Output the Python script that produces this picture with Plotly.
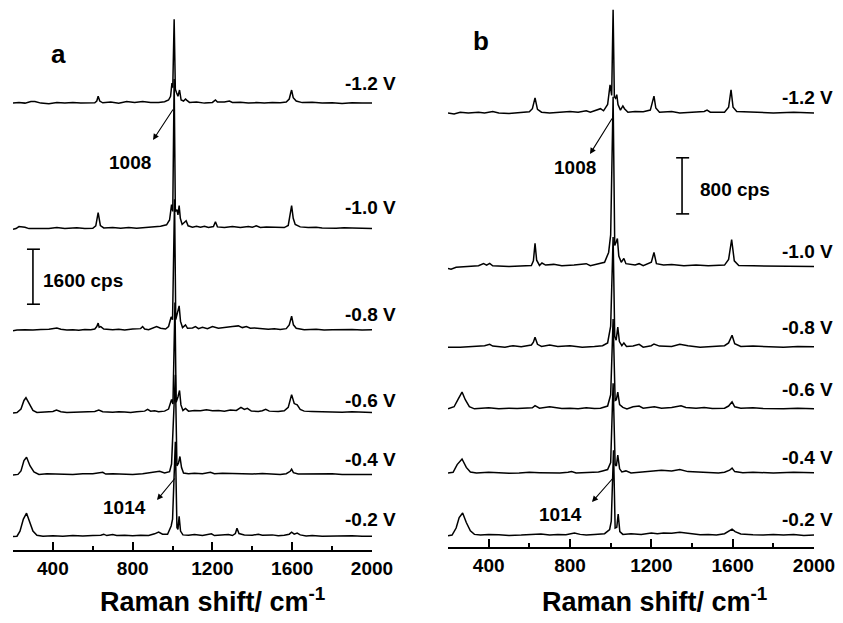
import plotly.graph_objects as go

W, H = 843, 623

# ---------------- data (Raman shift cm-1, intensity cps above each trace's baseline) ----------------
voltages = ["-0.2 V", "-0.4 V", "-0.6 V", "-0.8 V", "-1.0 V", "-1.2 V"]

# panel a: vertical offsets (cps) of each trace
a_offsets = [400, 2200, 4000, 6400, 9350, 13000]
# panel b
b_offsets = [170, 1055, 1970, 2850, 4000, 6190]

a_m02 = [(200, -10), (220, 0), (235, 150), (252, 500), (268, 670), (285, 400), (300, 150), (320, 30), (350, 0),
         (400, 15), (450, 0), (500, 20), (550, 10), (600, 25), (640, 30), (655, 60), (670, 20), (700, 50), (720, 20),
         (760, 30), (800, 15), (840, 30), (880, 20), (910, 70), (930, 120), (950, 60), (975, 60), (993, 300),
         (1000, 500), (1014, 2750), (1022, 250), (1027, 200), (1033, 580), (1040, 150), (1052, 40), (1080, 30),
         (1110, 50), (1150, 20), (1175, 60), (1195, 70), (1210, 20), (1250, 30), (1280, 50), (1300, 20), (1315, 80),
         (1323, 230), (1333, 80), (1360, 40), (1400, 30), (1430, 60), (1450, 30), (1500, 40), (1530, 15), (1560, 30),
         (1585, 60), (1597, 120), (1610, 60), (1625, 90), (1640, 40), (1670, 10), (1700, 20), (1750, 0), (1800, 10),
         (1850, 0), (1900, 15), (1950, 0), (2000, 0)]
a_m04 = [(200, -20), (225, 0), (240, 100), (255, 400), (268, 500), (285, 250), (305, 70), (330, 0), (370, 15),
         (400, 10), (450, -10), (500, 0), (550, 15), (600, 15), (650, 60), (665, 10), (700, 20), (750, 10), (800, 0),
         (850, 15), (900, 50), (935, 90), (960, 40), (985, 80), (995, 300), (1014, 2900), (1022, 250), (1030, 330),
         (1037, 520), (1045, 200), (1055, 40), (1080, 20), (1110, 35), (1150, 20), (1190, 60), (1210, 20), (1250, 30),
         (1300, 20), (1350, 0), (1400, 10), (1450, 25), (1500, 20), (1540, 0), (1570, 20), (1590, 90), (1597, 150),
         (1606, 50), (1630, 10), (1700, 20), (1750, 10), (1800, 20), (1850, 0), (1920, 10), (2000, 0)]
a_m06 = [(200, -15), (220, 0), (240, 100), (255, 350), (265, 430), (280, 250), (300, 60), (320, 0), (360, 10),
         (400, 30), (418, 70), (440, 20), (470, 0), (500, 10), (530, 0), (560, 20), (610, 30), (630, 70), (650, 20),
         (700, 10), (730, 25), (760, 15), (790, 0), (820, 20), (860, 40), (875, 90), (890, 40), (910, 50), (930, 20),
         (960, 40), (980, 100), (995, 380), (1002, 250), (1012, 3200), (1018, 300), (1027, 450), (1035, 640),
         (1042, 220), (1052, 60), (1065, 120), (1080, 40), (1110, 60), (1140, 50), (1170, 80), (1200, 50),
         (1230, 60), (1260, 40), (1290, 70), (1320, 60), (1343, 150), (1360, 90), (1375, 120), (1395, 40),
         (1430, 30), (1450, 50), (1467, 90), (1485, 40), (1530, 30), (1560, 50), (1580, 150), (1597, 520),
         (1610, 260), (1625, 220), (1640, 90), (1660, 40), (1700, 30), (1760, 20), (1800, 30), (1850, 10),
         (1900, 20), (1950, 15), (2000, 0)]
a_m08 = [(200, -20), (220, 0), (260, 10), (300, 0), (340, 15), (380, 20), (420, 60), (440, 20), (470, 0),
         (500, 10), (530, -10), (560, 15), (590, 10), (610, 30), (620, 100), (627, 200), (632, 80), (640, 100),
         (655, 30), (700, 10), (730, 20), (760, 0), (800, 30), (840, 40), (850, 100), (860, 30), (880, 10),
         (900, 60), (920, 100), (940, 50), (965, 30), (980, 100), (993, 380), (1000, 300), (1010, 3800),
         (1016, 300), (1025, 500), (1033, 700), (1040, 250), (1050, 70), (1065, 150), (1075, 50), (1100, 60),
         (1115, 100), (1130, 40), (1150, 80), (1175, 40), (1200, 100), (1230, 50), (1260, 80), (1300, 100),
         (1330, 120), (1350, 70), (1370, 100), (1390, 50), (1410, 60), (1440, 40), (1480, 20), (1510, 35),
         (1540, 15), (1570, 40), (1585, 150), (1597, 400), (1606, 150), (1620, 50), (1660, 10), (1720, 20),
         (1760, 0), (1800, 10), (1850, 20), (1900, 15), (1950, 0), (2000, 10)]
a_m10 = [(200, -20), (215, 0), (230, 60), (260, 40), (280, 0), (330, 10), (380, 0), (420, 30), (460, 0),
         (520, 25), (560, 0), (600, 10), (615, 80), (627, 465), (638, 90), (655, 20), (700, 35), (740, 10),
         (780, 30), (820, 10), (860, 30), (900, 50), (940, 70), (970, 110), (985, 250), (995, 700), (1001, 500),
         (1008, 4350), (1014, 500), (1022, 550), (1027, 400), (1033, 670), (1039, 300), (1048, 120), (1060, 180),
         (1068, 230), (1078, 80), (1100, 40), (1120, 70), (1140, 40), (1160, 70), (1180, 30), (1205, 60),
         (1215, 200), (1225, 50), (1260, 30), (1300, 60), (1340, 30), (1380, 60), (1400, 40), (1420, 80),
         (1440, 30), (1470, 50), (1500, 40), (1560, 30), (1580, 90), (1590, 450), (1597, 670), (1605, 300),
         (1615, 120), (1640, 50), (1680, 30), (1720, 40), (1750, 20), (1820, 10), (1860, 25), (1900, 15),
         (1950, 5), (2000, 0)]
a_m12 = [(200, 0), (230, 15), (260, 0), (290, 45), (310, 50), (340, 0), (380, -15), (420, 15), (460, 0),
         (500, 20), (540, 0), (580, 15), (610, 10), (620, 60), (627, 200), (635, 60), (650, 10), (690, 30),
         (730, 0), (770, 45), (810, 20), (850, 45), (890, 15), (930, 20), (960, 40), (980, 90), (990, 200),
         (997, 580), (1001, 450), (1008, 2440), (1014, 400), (1020, 300), (1027, 200), (1035, 380), (1043, 90),
         (1055, 60), (1065, 120), (1072, 80), (1085, 20), (1120, 30), (1160, 0), (1200, 20), (1208, 50),
         (1215, 90), (1225, 30), (1260, 30), (1285, 60), (1300, 20), (1340, 25), (1380, 0), (1420, 15),
         (1460, 0), (1500, 20), (1540, 10), (1570, 30), (1585, 120), (1592, 280), (1597, 380), (1605, 160),
         (1620, 60), (1650, 15), (1700, 25), (1750, 0), (1800, 10), (1850, -10), (1900, 10), (1950, 0),
         (2000, 0)]

b_m02 = [(200, -10), (220, 0), (240, 100), (255, 250), (272, 315), (290, 180), (310, 60), (330, 10), (360, 0),
         (400, 10), (450, 5), (500, -5), (560, 0), (620, 10), (657, 15), (700, 0), (740, 10), (780, 5), (822, 30),
         (850, 10), (880, 0), (920, 10), (970, 20), (995, 80), (1003, 200), (1014, 1210), (1022, 100), (1030, 110),
         (1037, 300), (1045, 50), (1060, 10), (1100, 20), (1150, 10), (1200, 30), (1230, 20), (1260, 30),
         (1300, 25), (1340, 40), (1370, 30), (1400, 20), (1440, 5), (1480, 10), (1520, 0), (1560, 20), (1585, 60),
         (1597, 85), (1612, 50), (1640, 15), (1700, 5), (1750, 0), (1800, 10), (1850, 0), (1900, 10), (1950, -5),
         (2000, 0)]
b_m04 = [(200, 0), (225, 10), (245, 120), (269, 200), (290, 80), (310, 15), (340, 0), (400, 10), (450, 5),
         (500, -5), (550, 0), (600, 10), (650, 5), (700, 0), (750, 0), (790, 10), (808, 20), (830, 0), (870, 5),
         (900, 10), (940, 15), (960, 30), (985, 50), (1000, 150), (1012, 1280), (1022, 120), (1028, 100),
         (1035, 255), (1044, 60), (1055, 15), (1075, 30), (1100, 0), (1140, 10), (1180, 20), (1220, 35),
         (1250, 40), (1300, 30), (1340, 50), (1380, 20), (1440, 10), (1500, 10), (1530, 0), (1560, 10),
         (1585, 40), (1597, 70), (1610, 20), (1650, 5), (1700, 10), (1800, 0), (1900, 10), (2000, 5)]
b_m06 = [(200, 0), (230, 30), (250, 140), (269, 240), (285, 130), (305, 30), (330, 0), (370, 10), (400, 15),
         (450, 0), (500, 10), (540, 5), (600, 10), (615, 15), (628, 45), (650, 10), (700, 30), (720, 20),
         (760, 5), (800, 10), (840, 0), (880, 15), (920, 5), (950, 10), (985, 40), (1000, 200), (1012, 1280),
         (1022, 120), (1028, 130), (1035, 240), (1044, 60), (1060, 20), (1080, 0), (1110, 30), (1140, 40),
         (1160, 10), (1215, 30), (1250, 10), (1300, 20), (1346, 45), (1370, 20), (1420, 10), (1460, 20),
         (1500, 5), (1560, 10), (1580, 40), (1597, 100), (1610, 30), (1640, 10), (1700, 15), (1750, 5),
         (1850, 0), (1920, 10), (2000, 0)]
b_m08 = [(200, 0), (230, -5), (260, 0), (320, 10), (380, 20), (405, 40), (420, 15), (480, 0), (520, 20),
         (560, 5), (610, 30), (620, 70), (628, 140), (640, 40), (660, 10), (700, 30), (740, 10), (800, 20),
         (860, 0), (920, 10), (960, 20), (985, 60), (1000, 300), (1012, 1570), (1020, 150), (1027, 100),
         (1035, 285), (1043, 80), (1055, 20), (1065, 60), (1078, 10), (1110, 15), (1140, 40), (1160, 0),
         (1200, 20), (1213, 45), (1240, 15), (1300, 10), (1340, 40), (1380, 20), (1440, 0), (1500, 10),
         (1560, 20), (1580, 60), (1597, 170), (1610, 50), (1640, 10), (1700, 15), (1750, 10), (1850, 0),
         (1920, 10), (2000, 5)]
b_m10 = [(200, -30), (215, -40), (240, -10), (300, 0), (350, 10), (375, 40), (390, 20), (405, 45), (420, 10),
         (500, 0), (560, 5), (610, 15), (620, 80), (628, 330), (636, 90), (650, 15), (662, 50), (680, 20),
         (720, 30), (760, 10), (820, 20), (880, 40), (900, 10), (950, 40), (970, 60), (990, 200), (1000, 450),
         (1012, 2420), (1020, 300), (1027, 350), (1033, 400), (1040, 150), (1052, 60), (1065, 115), (1075, 40),
         (1120, 20), (1140, 40), (1160, 10), (1200, 60), (1213, 200), (1225, 40), (1260, 20), (1300, 30),
         (1360, 10), (1420, 20), (1480, 10), (1560, 20), (1580, 100), (1595, 385), (1608, 80), (1630, 15),
         (1700, 10), (1800, 10), (1900, 0), (2000, 0)]
b_m12 = [(200, 0), (230, -15), (260, 10), (300, 0), (350, 10), (380, 0), (420, 20), (450, 0), (500, -10),
         (560, 10), (600, 15), (615, 60), (628, 215), (640, 50), (660, 10), (700, 0), (760, 10), (800, 20),
         (840, 10), (880, 30), (900, 10), (930, 40), (950, 60), (965, 30), (985, 120), (997, 400), (1005, 250),
         (1012, 1470), (1018, 230), (1024, 210), (1030, 260), (1036, 120), (1048, 40), (1060, 100), (1068, 60),
         (1085, 10), (1120, 20), (1160, 15), (1195, 40), (1205, 150), (1213, 240), (1222, 70), (1240, 10),
         (1300, 20), (1340, 0), (1400, 10), (1460, 20), (1474, 40), (1490, 10), (1560, 10), (1580, 80),
         (1592, 330), (1602, 80), (1620, 20), (1700, 10), (1800, 0), (1900, 10), (2000, 0)]

a_spectra = [a_m02, a_m04, a_m06, a_m08, a_m10, a_m12]
b_spectra = [b_m02, b_m04, b_m06, b_m08, b_m10, b_m12]

x_ticks = [400, 800, 1200, 1600, 2000]
x_tick_text = ["400", "800", "1200", "1600", "2000"]
x_minor = [200, 600, 1000, 1400, 1800]
a_scale_cps = 1600
b_scale_cps = 800

# ---------------- figure ----------------
fig = go.Figure()

def add_panel(spectra, offsets, xa, ya):
    for pts, off in zip(spectra, offsets):
        xs = [p[0] for p in pts]
        ys = [p[1] + off for p in pts]
        fig.add_trace(go.Scatter(x=xs, y=ys, mode="lines", xaxis=xa, yaxis=ya,
                                 line=dict(color="black", width=1.5), hoverinfo="skip"))

add_panel(a_spectra, a_offsets, "x", "y")
add_panel(b_spectra, b_offsets, "x2", "y2")

def px(xp):
    return xp / W

def py(yp):
    return 1 - yp / H

axis_common = dict(range=[200, 2000], tickvals=x_ticks, ticktext=["<b>%s</b>" % t for t in x_tick_text],
                   ticks="inside", ticklen=8, tickwidth=1.6,
                   tickcolor="black", showline=True, linewidth=1.6, linecolor="black",
                   showgrid=False, zeroline=False, automargin=False,
                   tickfont=dict(family="Liberation Sans", size=19, color="black"),
                   minor=dict(tickvals=x_minor, ticks="inside", ticklen=4, tickwidth=1.6, tickcolor="black"),
                   ticklabelstandoff=0)

fig.update_layout(
    width=W, height=H, margin=dict(l=0, r=0, t=0, b=0),
    paper_bgcolor="white", plot_bgcolor="white", showlegend=False,
    xaxis=dict(domain=[px(13), px(372)], anchor="y", **axis_common),
    xaxis2=dict(domain=[px(448), px(814)], anchor="y2", **axis_common),
    yaxis=dict(domain=[py(550), 1], range=[0, 16000], visible=False),
    yaxis2=dict(domain=[py(547), 1], range=[0, 7800], visible=False),
)

fnt = dict(family="Liberation Sans", color="black")
ann = []

def label(x, y, text, size, xanchor="center"):
    ann.append(dict(x=px(x), y=py(y), xref="paper", yref="paper", text="<b>%s</b>" % text,
                    showarrow=False, xanchor=xanchor, yanchor="middle", font=dict(size=size, **fnt)))

# voltage labels
a_label_y = [519, 460, 400, 314, 207, 83]
b_label_y = [519, 457, 389, 327, 251, 98]
for v, yy in zip(voltages, a_label_y):
    label(398, yy, v, 19, "right")
for v, yy in zip(voltages, b_label_y):
    label(835, yy, v, 19, "right")

# panel letters
label(58, 54, "a", 26)
label(481, 41, "b", 26)

# axis titles
title = "Raman shift/ cm<sup>-1</sup>"
label(212, 600, title, 27)
label(654, 600, title, 27)

# peak labels with arrows
for txt, (tx, ty), (hx, hy), (dx, dy) in [
    ("1008", (130, 163), (153, 140), (21, -32)),
    ("1014", (124, 507), (157, 500), (19, -23)),
    ("1008", (575, 167), (590, 154), (23, -37)),
    ("1014", (560, 514), (592, 502), (22, -25)),
]:
    label(tx, ty, txt, 19)
    ann.append(dict(x=px(hx), y=py(hy), xref="paper", yref="paper", text="", showarrow=True,
                    ax=dx, ay=dy, arrowhead=2, arrowsize=1.1, arrowwidth=1.1, arrowcolor="black"))

# scale bar texts
label(41, 280, "1600 cps", 19, "left")
label(698, 190, "800 cps", 19, "left")

fig.update_layout(annotations=ann)

# scale bars (in data units)
a_bar_lo = 7150
b_bar_lo = 4750
shapes = []
for xr, yr, xc, x0c, x1c, lo, h in [("x", "y", 300, 270, 335, a_bar_lo, a_scale_cps),
                                    ("x2", "y2", 1351, 1322, 1386, b_bar_lo, b_scale_cps)]:
    line = dict(color="black", width=1.6)
    shapes.append(dict(type="line", xref=xr, yref=yr, x0=xc, x1=xc, y0=lo, y1=lo + h, line=line))
    shapes.append(dict(type="line", xref=xr, yref=yr, x0=x0c, x1=x1c, y0=lo, y1=lo, line=line))
    shapes.append(dict(type="line", xref=xr, yref=yr, x0=x0c, x1=x1c, y0=lo + h, y1=lo + h, line=line))
fig.update_layout(shapes=shapes)

fig.write_html("out.html", config={"displayModeBar": False},
               post_script="document.body.style.margin='0px';")
